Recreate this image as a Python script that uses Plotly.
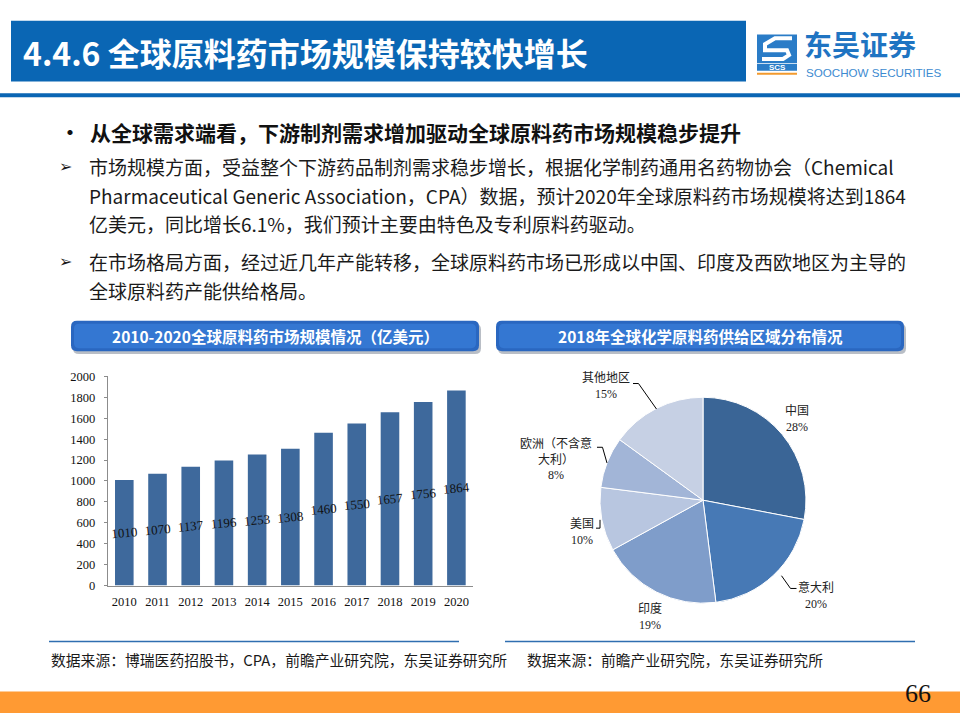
import plotly.graph_objects as go

W, H = 960, 720

# ---------------- data ----------------
years = ['2010', '2011', '2012', '2013', '2014', '2015', '2016', '2017', '2018', '2019', '2020']
market_size = [1010, 1070, 1137, 1196, 1253, 1308, 1460, 1550, 1657, 1756, 1864]
y_ticks = [0, 200, 400, 600, 800, 1000, 1200, 1400, 1600, 1800, 2000]

regions = ['中国', '意大利', '印度', '美国', '欧洲（不含意大利）', '其他地区']
shares = [28, 20, 19, 10, 8, 15]
region_colors = ['#3A6596', '#4779B5', '#7F9DCA', '#B8C6E0', '#A2B5D7', '#C6D0E4']

title_text = '4.4.6 全球原料药市场规模保持较快增长'
bullet_text = '从全球需求端看，下游制剂需求增加驱动全球原料药市场规模稳步提升'
para_lines = [
    '市场规模方面，受益整个下游药品制剂需求稳步增长，根据化学制药通用名药物协会（Chemical',
    'Pharmaceutical Generic Association，CPA）数据，预计2020年全球原料药市场规模将达到1864',
    '亿美元，同比增长6.1%，我们预计主要由特色及专利原料药驱动。',
    '在市场格局方面，经过近几年产能转移，全球原料药市场已形成以中国、印度及西欧地区为主导的',
    '全球原料药产能供给格局。',
]
bar_title = '2010-2020全球原料药市场规模情况（亿美元）'
pie_title = '2018年全球化学原料药供给区域分布情况'
source_left = '数据来源：博瑞医药招股书，CPA，前瞻产业研究院，东吴证券研究所'
source_right = '数据来源：前瞻产业研究院，东吴证券研究所'
page_no = '66'

# ---------------- helpers ----------------
def X(x):
    return x / W

def Y(y):
    return 1 - y / H

def rect(x0, y0, x1, y1, color, layer='below'):
    return dict(type='rect', xref='paper', yref='paper', x0=X(x0), x1=X(x1), y0=Y(y1), y1=Y(y0),
                fillcolor=color, line=dict(width=0), layer=layer)

def path_from(points, close=False):
    s = 'M ' + ' L '.join(f'{X(a):.5f},{Y(b):.5f}' for a, b in points)
    return s + (' Z' if close else '')

def rounded(x0, y0, x1, y1, r):
    s = (f'M {X(x0 + r):.5f},{Y(y0):.5f} L {X(x1 - r):.5f},{Y(y0):.5f} '
         f'Q {X(x1):.5f},{Y(y0):.5f} {X(x1):.5f},{Y(y0 + r):.5f} '
         f'L {X(x1):.5f},{Y(y1 - r):.5f} Q {X(x1):.5f},{Y(y1):.5f} {X(x1 - r):.5f},{Y(y1):.5f} '
         f'L {X(x0 + r):.5f},{Y(y1):.5f} Q {X(x0):.5f},{Y(y1):.5f} {X(x0):.5f},{Y(y1 - r):.5f} '
         f'L {X(x0):.5f},{Y(y0 + r):.5f} Q {X(x0):.5f},{Y(y0):.5f} {X(x0 + r):.5f},{Y(y0):.5f} Z')
    return s

def line(points, color='#000000', width=1):
    return dict(type='path', xref='paper', yref='paper', path=path_from(points),
                line=dict(color=color, width=width), layer='above')

def text(x, y, t, size, color='#1a1a1a', family='Noto Sans CJK SC', xanchor='left', yanchor='middle', align='left'):
    return dict(x=X(x), y=Y(y), xref='paper', yref='paper', text=t, showarrow=False,
                xanchor=xanchor, yanchor=yanchor, align=align,
                font=dict(size=size, color=color, family=family))

SERIF = 'Liberation Serif, Noto Sans CJK SC'
BLUE = '#0A66B4'

fig = go.Figure()

# ---------------- bar chart ----------------
fig.add_trace(go.Bar(
    x=years, y=market_size, marker=dict(color='#3E699C', line=dict(width=0)),
    text=[str(v) for v in market_size], textposition='inside', insidetextanchor='middle',
    textangle=-5, constraintext='none',
    textfont=dict(family='Liberation Serif', size=13, color='#111111'),
    xaxis='x', yaxis='y', showlegend=False, hoverinfo='skip'))

# ---------------- pie chart ----------------
fig.add_trace(go.Pie(
    labels=regions, values=shares, sort=False, direction='clockwise', rotation=0,
    marker=dict(colors=region_colors, line=dict(color='#FFFFFF', width=1)),
    textinfo='none', hoverinfo='skip', showlegend=False,
    domain=dict(x=[X(598), X(808)], y=[Y(608), Y(398)])))

shapes = []
# header
shapes.append(rect(11, 14, 746, 76, BLUE))
shapes.append(rect(0, 88, 960, 92, BLUE))
# logo
shapes.append(rect(757, 28, 797, 57, '#2A7CC7'))
shapes.append(dict(type='path', xref='paper', yref='paper', layer='above',
                   path=path_from([(792, 32), (775, 32), (765, 38), (765, 44), (787, 44), (789, 49), (783, 53), (762, 53)]),
                   line=dict(color='#FFFFFF', width=4)))
shapes.append(rect(757, 58, 797, 65, '#2A7CC7'))
shapes.append(rect(757, 67, 797, 69, '#F29A2E'))
# subtitle boxes with shadow
for (bx0, bx1) in [(71, 479), (496, 904)]:
    shapes.append(dict(type='path', xref='paper', yref='paper', path=rounded(bx0 + 2, 323, bx1 + 2, 354, 6),
                       fillcolor='#B9BEC6', line=dict(width=0), layer='below'))
    shapes.append(dict(type='path', xref='paper', yref='paper', path=rounded(bx0, 320, bx1, 351, 6),
                       fillcolor='#2A67C0', line=dict(width=0), layer='below'))
    shapes.append(dict(type='path', xref='paper', yref='paper', path=rounded(bx0 + 3, 323, bx1 - 3, 348, 5),
                       fillcolor='#3477D2', line=dict(width=0), layer='below'))
# pie leader lines
shapes.append(line([(633, 384), (638.5, 384), (656.5, 410)]))
shapes.append(line([(597, 449), (602.5, 449), (607, 465)]))
shapes.append(line([(600, 523), (600, 531.5), (596, 531.5)]))
shapes.append(line([(781.5, 580), (790.5, 593), (796.5, 593)]))
# footer lines
shapes.append(dict(type='line', xref='paper', yref='paper', x0=X(49), x1=X(459), y0=Y(647), y1=Y(647),
                   line=dict(color='#2F6EB0', width=1.5)))
shapes.append(dict(type='line', xref='paper', yref='paper', x0=X(505), x1=X(915), y0=Y(647), y1=Y(647),
                   line=dict(color='#2F6EB0', width=1.5)))
# bottom orange bar
shapes.append(rect(0, 698, 960, 720, '#FF9A33'))

ann = []
ann.append(text(21, 46, f'<b>{title_text}</b>', 32, color='#FFFFFF'))
ann.append(text(802, 38, '<b>东吴证券</b>', 28, color='#1F74C2'))
ann.append(text(804, 67, 'SOOCHOW SECURITIES', 11.6, color='#3C8AD0', family='Liberation Sans'))
ann.append(text(777, 61.5, '<b>SCS</b>', 8, color='#FFFFFF', family='Liberation Sans', xanchor='center'))

ann.append(text(58, 127, '<b>•</b>', 20, color='#111111'))
ann.append(text(88, 127, f'<b>{bullet_text}</b>', 21, color='#111111'))
line_y = [163, 192, 221, 260, 289]
for t, yy in zip(para_lines, line_y):
    ann.append(text(87, yy, t, 19, color='#1a1a1a'))
for yy in [163, 260]:
    ann.append(text(57, yy, '➢', 16, color='#1a1a1a', family='DejaVu Sans'))

ann.append(text(275, 336, f'<b>{bar_title}</b>', 15.5, color='#FFFFFF', xanchor='center'))
ann.append(text(700, 336, f'<b>{pie_title}</b>', 15.5, color='#FFFFFF', xanchor='center'))

# pie labels
def pie_label(name, pct):
    if len(name) > 6:
        name = name[:6] + '<br>' + name[6:]
    return f'{name}<br>{pct}%'

label_pos = [(797, 420), (816, 600), (650, 622), (582, 535), (556, 461), (606, 387)]
for name, pct, (lx, ly) in zip(regions, shares, label_pos):
    ann.append(text(lx, ly, pie_label(name, pct), 12, color='#222222', family=SERIF,
                    xanchor='center', align='center'))

ann.append(text(49, 665, source_left, 14.8, color='#1a1a1a'))
ann.append(text(525, 665, source_right, 14.8, color='#1a1a1a'))
ann.append(text(918, 700, page_no, 26, color='#111111', family='Liberation Serif', xanchor='center'))

fig.update_layout(
    width=W, height=H, margin=dict(l=0, r=0, t=0, b=0),
    paper_bgcolor='#FFFFFF', plot_bgcolor='#FFFFFF',
    bargap=0.44, shapes=shapes, annotations=ann,
    xaxis=dict(domain=[X(107.7), X(473)], type='category', showgrid=False, showline=True,
               linecolor='#8C8C8C', linewidth=1, ticks='', zeroline=False,
               tickfont=dict(family='Liberation Serif', size=12.5, color='#111111'), ticklabelstandoff=4),
    yaxis=dict(domain=[Y(590), Y(376.7)], range=[0, 2000], tickvals=y_ticks, showgrid=False,
               showline=True, linecolor='#8C8C8C', linewidth=1, ticks='outside', ticklen=3,
               tickcolor='#8C8C8C', zeroline=False,
               tickfont=dict(family='Liberation Serif', size=12.5, color='#111111'), ticklabelstandoff=6),
)

fig.write_html('out.html', config={'displayModeBar': False},
               post_script="document.body.style.margin='0';document.body.style.overflow='hidden';")
